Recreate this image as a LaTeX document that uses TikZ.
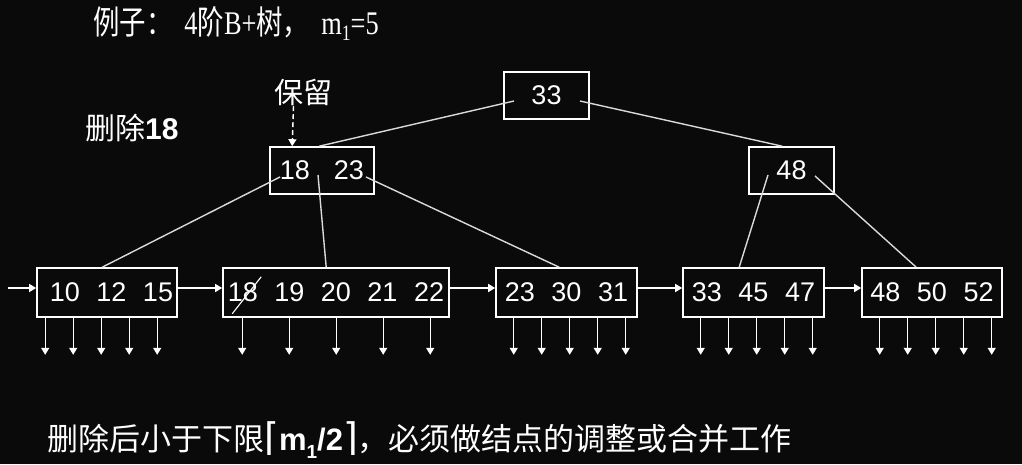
\documentclass[tikz,border=0pt]{standalone}
\usepackage{fontspec}
\setmainfont{Liberation Sans}
\newfontfamily\cjk{Noto Sans CJK SC}
\newfontfamily\cjknarrow[FakeStretch=0.8]{Noto Sans CJK SC}
\newfontfamily\serifnarrow[FakeStretch=0.8]{Liberation Serif}
\newfontfamily\symfont{DejaVu Sans}
\usetikzlibrary{arrows.meta}

\definecolor{bg}{HTML}{0A0A0A}
\definecolor{linkgray}{HTML}{DADADA}
\newcommand{\kgap}{\hspace{16.5pt}}

\begin{document}
\begin{tikzpicture}[x=1pt,y=1pt,
                    box/.style={draw=white,line width=1.6pt,text=white,inner sep=0pt,
                                font=\fontsize{27}{30}\selectfont},
                    inner/.style={box,minimum height=47pt},
                    leaf/.style={box,minimum height=49pt},
                    link/.style={draw=linkgray,line width=1.4pt},
                    ptr/.style={draw=white,line width=1.3pt,-{Triangle[width=8pt,length=7pt]}},
                    note/.style={text=white,inner sep=0pt}]

                    \fill[bg] (0,0) rectangle (1022,464);
                    \useasboundingbox (0,0) rectangle (1022,464);

                    % texts
                    \node[note,anchor=base west,font=\fontsize{33}{35}\selectfont] (title) at (93,429)
                        {\cjknarrow 例子：\hspace{12pt}\serifnarrow 4\cjknarrow 阶\serifnarrow B+\cjknarrow 树，\hspace{12pt}\serifnarrow m\raisebox{-6pt}{\fontsize{22}{22}\selectfont 1}=5};
                    \node[note,anchor=base west,font=\fontsize{30}{32}\selectfont] (del) at (85,324)
                        {{\cjk 删除}\textbf{18}};
                    \node[note,font=\cjk\fontsize{29}{30}\selectfont] (keep) at (303.5,371.5) {保留};
                    \node[note,anchor=base west,font=\cjk\fontsize{31}{33}\selectfont] (rule) at (47,14)
                        {删除后小于下限{\symfont\fontsize{38}{38}\selectfont ⌈}{\rmfamily\bfseries m\raisebox{-8pt}{\fontsize{19}{19}\selectfont 1}/2}{\symfont\fontsize{38}{38}\selectfont ⌉}，必须做结点的调整或合并工作};

                    % index nodes
                    \node[inner,minimum width=85pt] (root) at (546.5,368.5) {33};
                    \node[inner,minimum width=104pt] (idxL) at (322,293.5) {18\hspace{24pt}23};
                    \node[inner,minimum width=85pt] (idxR) at (791.5,293.5) {48};

                    % leaves
                    \node[leaf,minimum width=140pt] (leafA) at (107,171.5) {\hspace*{9pt}10\kgap 12\kgap 15};
                    \node[leaf,minimum width=226pt] (leafB) at (336,171.5) {18\kgap 19\kgap 20\kgap 21\kgap 22};
                    \node[leaf,minimum width=141pt] (leafC) at (566.5,171.5) {23\kgap 30\kgap 31};
                    \node[leaf,minimum width=141pt] (leafD) at (753.5,171.5) {33\kgap 45\kgap 47};
                    \node[leaf,minimum width=140pt] (leafE) at (932,171.5) {48\kgap 50\kgap 52};

                    % tree links
                    \draw[link] ([shift={(-32.5,-5.5)}]root.center) -- ([xshift=50pt]idxL.north west);
                    \draw[link] ([shift={(33.5,-5.5)}]root.center) -- ([xshift=34pt]idxR.north west);
                    \draw[link] ([shift={(-42,-6.5)}]idxL.center) -- ([xshift=66pt]leafA.north west);
                    \draw[link] ([shift={(-4,-4.5)}]idxL.center) -- ([xshift=104pt]leafB.north west);
                    \draw[link] ([shift={(44,-6.5)}]idxL.center) -- ([xshift=64pt]leafC.north west);
                    \draw[link] ([shift={(-23.5,-4.5)}]idxR.center) -- ([xshift=57pt]leafD.north west);
                    \draw[link] ([shift={(23.5,-5.5)}]idxR.center) -- ([xshift=55pt]leafE.north west);

                    % sequence pointers
                    \coordinate (start) at (8,176);
                    \draw[ptr] (start) -- ([yshift=4.5pt]leafA.west);
                    \draw[ptr] ([yshift=4.5pt]leafA.east) -- ([yshift=4.5pt]leafB.west);
                    \draw[ptr] ([yshift=4.5pt]leafB.east) -- ([yshift=4.5pt]leafC.west);
                    \draw[ptr] ([yshift=4.5pt]leafC.east) -- ([yshift=4.5pt]leafD.west);
                    \draw[ptr] ([yshift=4.5pt]leafD.east) -- ([yshift=4.5pt]leafE.west);

                    % record pointers
                    \foreach \lf/\off/\dx in {leafA/9/28,leafB/20/47,leafC/18.5/28,leafD/18.5/28,leafE/18.5/28}
                        \foreach \i in {0,...,4}
                            \draw[ptr] ([xshift={\off+\dx*\i}]\lf.south west) -- ++(0,-37);

                    % deleted key and kept separator
                    \draw[draw=white,line width=1.1pt] ([shift={(10,4)}]leafB.south west) -- ([shift={(39,41)}]leafB.south west);
                    \draw[ptr,line width=1.4pt,dash pattern=on 5pt off 3pt] ([xshift=-10pt]keep.south) -- ([xshift=23pt]idxL.north west);
                \end{tikzpicture}
\end{document}
